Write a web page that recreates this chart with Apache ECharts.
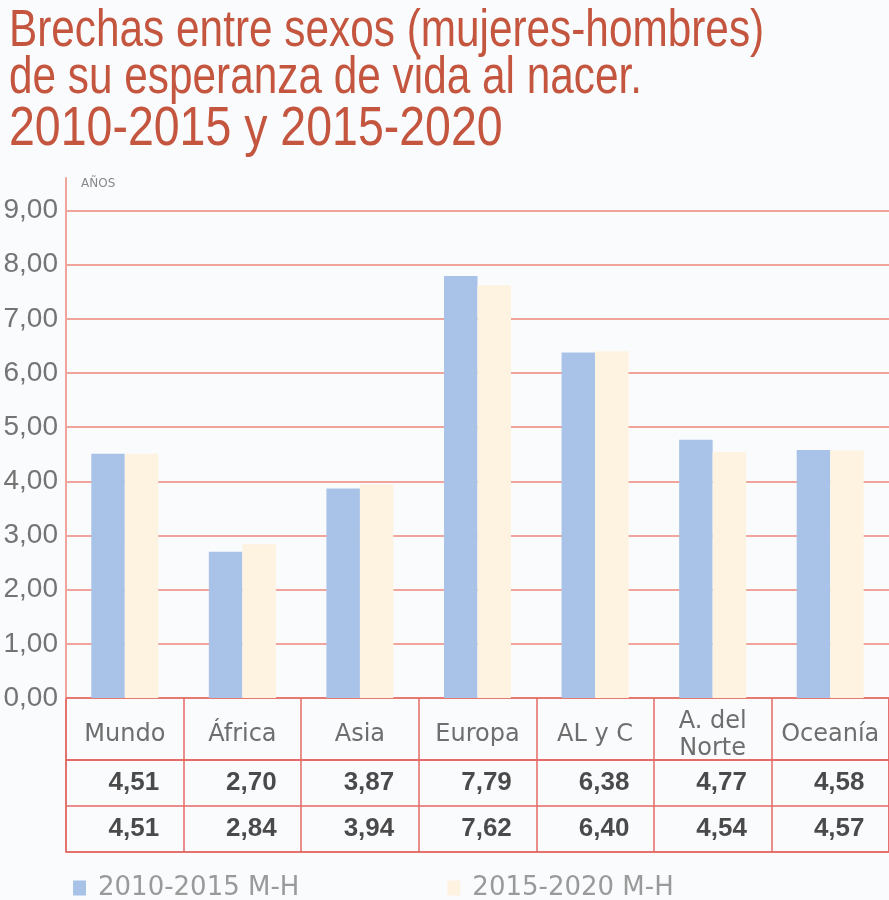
<!DOCTYPE html>
<html>
<head>
<meta charset="utf-8">
<script src="https://cdn.jsdelivr.net/npm/echarts@6/dist/echarts.min.js"></script>
<style>
  html, body { margin: 0; padding: 0; background: #fafbfd; }
  #chart { width: 889px; height: 900px; }
</style>
</head>
<body>
<div id="chart"></div>
<script>
// datos ------------------------------------------------
var regiones = ['Mundo', 'África', 'Asia', 'Europa', 'AL y C', 'A. del\nNorte', 'Oceanía'];
var brecha2010 = [4.51, 2.70, 3.87, 7.79, 6.38, 4.77, 4.58];
var brecha2015 = [4.51, 2.84, 3.94, 7.62, 6.40, 4.54, 4.57];
var serieNombres = ['2010-2015 M-H', '2015-2020 M-H'];
var tituloLineas = ['Brechas entre sexos (mujeres-hombres)', 'de su esperanza de vida al nacer.', '2010-2015 y 2015-2020'];

var rojo = '#e46a66';
var rejilla = '#f1a49b';

function coma(v) {
    return v.toFixed(2).replace('.', ',');
}

// celdas de la tabla: [columna, fila, valor]
var celdas = [];
brecha2010.forEach(function (v, i) { celdas.push([i, 0, v]); });
brecha2015.forEach(function (v, i) { celdas.push([i, 1, v]); });

// título: Liberation Sans estrechada (como una "Narrow")
function lineaTitulo(texto, y, size) {
    return {
        type: 'text',
        x: 9,
        y: y,
        scaleX: 0.83,
        style: {
            text: texto,
            fill: '#c4553f',
            fontFamily: 'Liberation Sans',
            fontSize: size,
            lineHeight: size,
            verticalAlign: 'top'
        }
    };
}

var myChart = echarts.init(document.getElementById('chart'));

var option = {
    backgroundColor: '#fafbfd',
    animation: false,
    color: ['#a9c2e8', '#fdf3e0'],
    graphic: [
        lineaTitulo(tituloLineas[0], 6, 51),
        lineaTitulo(tituloLineas[1], 53, 51),
        lineaTitulo(tituloLineas[2], 102, 56)
    ],
    legend: {
        data: serieNombres,
        left: 68,
        top: 870,
        icon: 'rect',
        itemWidth: 13,
        itemHeight: 15,
        itemGap: 148,
        textStyle: {
            color: '#9a9a9a',
            fontSize: 26,
            fontFamily: 'DejaVu Sans',
            padding: [0, 0, 0, 7]
        }
    },
    grid: [
        // gráfico
        {left: 66, right: 0, top: 178, bottom: 202},
        // cabecera de la tabla
        {left: 66, right: 0, top: 698, height: 62, show: true, borderColor: rojo, borderWidth: 1.5},
        // valores de la tabla
        {left: 66, right: 0, top: 760, height: 92, show: true, borderColor: rojo, borderWidth: 1.5}
    ],
    xAxis: [
        {
            gridIndex: 0,
            type: 'category',
            data: regiones,
            axisLine: {show: true, lineStyle: {color: rojo, width: 1.5}},
            axisTick: {show: false},
            axisLabel: {show: false}
        },
        {
            gridIndex: 1,
            type: 'category',
            data: regiones,
            axisLine: {show: false},
            axisTick: {show: false},
            splitLine: {show: true, interval: 0, lineStyle: {color: rojo, width: 1.5}},
            axisLabel: {
                interval: 0,
                inside: true,
                margin: 25,
                verticalAlign: 'middle',
                color: '#6e6e6e',
                fontSize: 24,
                lineHeight: 27,
                fontFamily: 'DejaVu Sans'
            }
        },
        {
            gridIndex: 2,
            type: 'category',
            data: regiones,
            axisLine: {show: false},
            axisTick: {show: false},
            axisLabel: {show: false},
            splitLine: {show: true, interval: 0, lineStyle: {color: rojo, width: 1.5}}
        }
    ],
    yAxis: [
        {
            gridIndex: 0,
            type: 'value',
            min: 0,
            max: 9.6,
            interval: 1,
            name: 'AÑOS',
            nameLocation: 'end',
            nameGap: -12,
            nameTextStyle: {color: '#888', fontSize: 12, fontFamily: 'DejaVu Sans', align: 'left', padding: [0, 0, 0, 15]},
            axisLine: {show: true, lineStyle: {color: rejilla, width: 2}},
            axisTick: {show: false},
            splitLine: {show: true, showMaxLine: false, lineStyle: {color: rejilla, width: 2}},
            axisLabel: {
                showMaxLabel: false,
                margin: 8,
                color: '#747474',
                fontSize: 28,
                fontFamily: 'Liberation Sans',
                formatter: function (v) { return coma(v); }
            }
        },
        {
            gridIndex: 1,
            type: 'value',
            show: false
        },
        {
            gridIndex: 2,
            type: 'category',
            data: ['a', 'b'],
            inverse: true,
            axisLine: {show: false},
            axisTick: {show: false},
            axisLabel: {show: false},
            splitLine: {show: true, interval: 0, lineStyle: {color: rojo, width: 1.5}}
        }
    ],
    series: [
        {
            name: serieNombres[0],
            type: 'bar',
            xAxisIndex: 0,
            yAxisIndex: 0,
            data: brecha2010,
            barGap: '0%',
            barCategoryGap: '43%'
        },
        {
            name: serieNombres[1],
            type: 'bar',
            xAxisIndex: 0,
            yAxisIndex: 0,
            data: brecha2015
        },
        {
            type: 'scatter',
            xAxisIndex: 2,
            yAxisIndex: 2,
            symbolSize: 0,
            silent: true,
            data: celdas,
            label: {
                show: true,
                position: 'inside',
                offset: [9, 0],
                color: '#1e1e1e',
                fontSize: 26,
                fontWeight: 'bold',
                fontFamily: 'Liberation Sans',
                formatter: function (p) { return coma(p.value[2]); }
            }
        }
    ]
};

myChart.setOption(option);
</script>
</body>
</html>
